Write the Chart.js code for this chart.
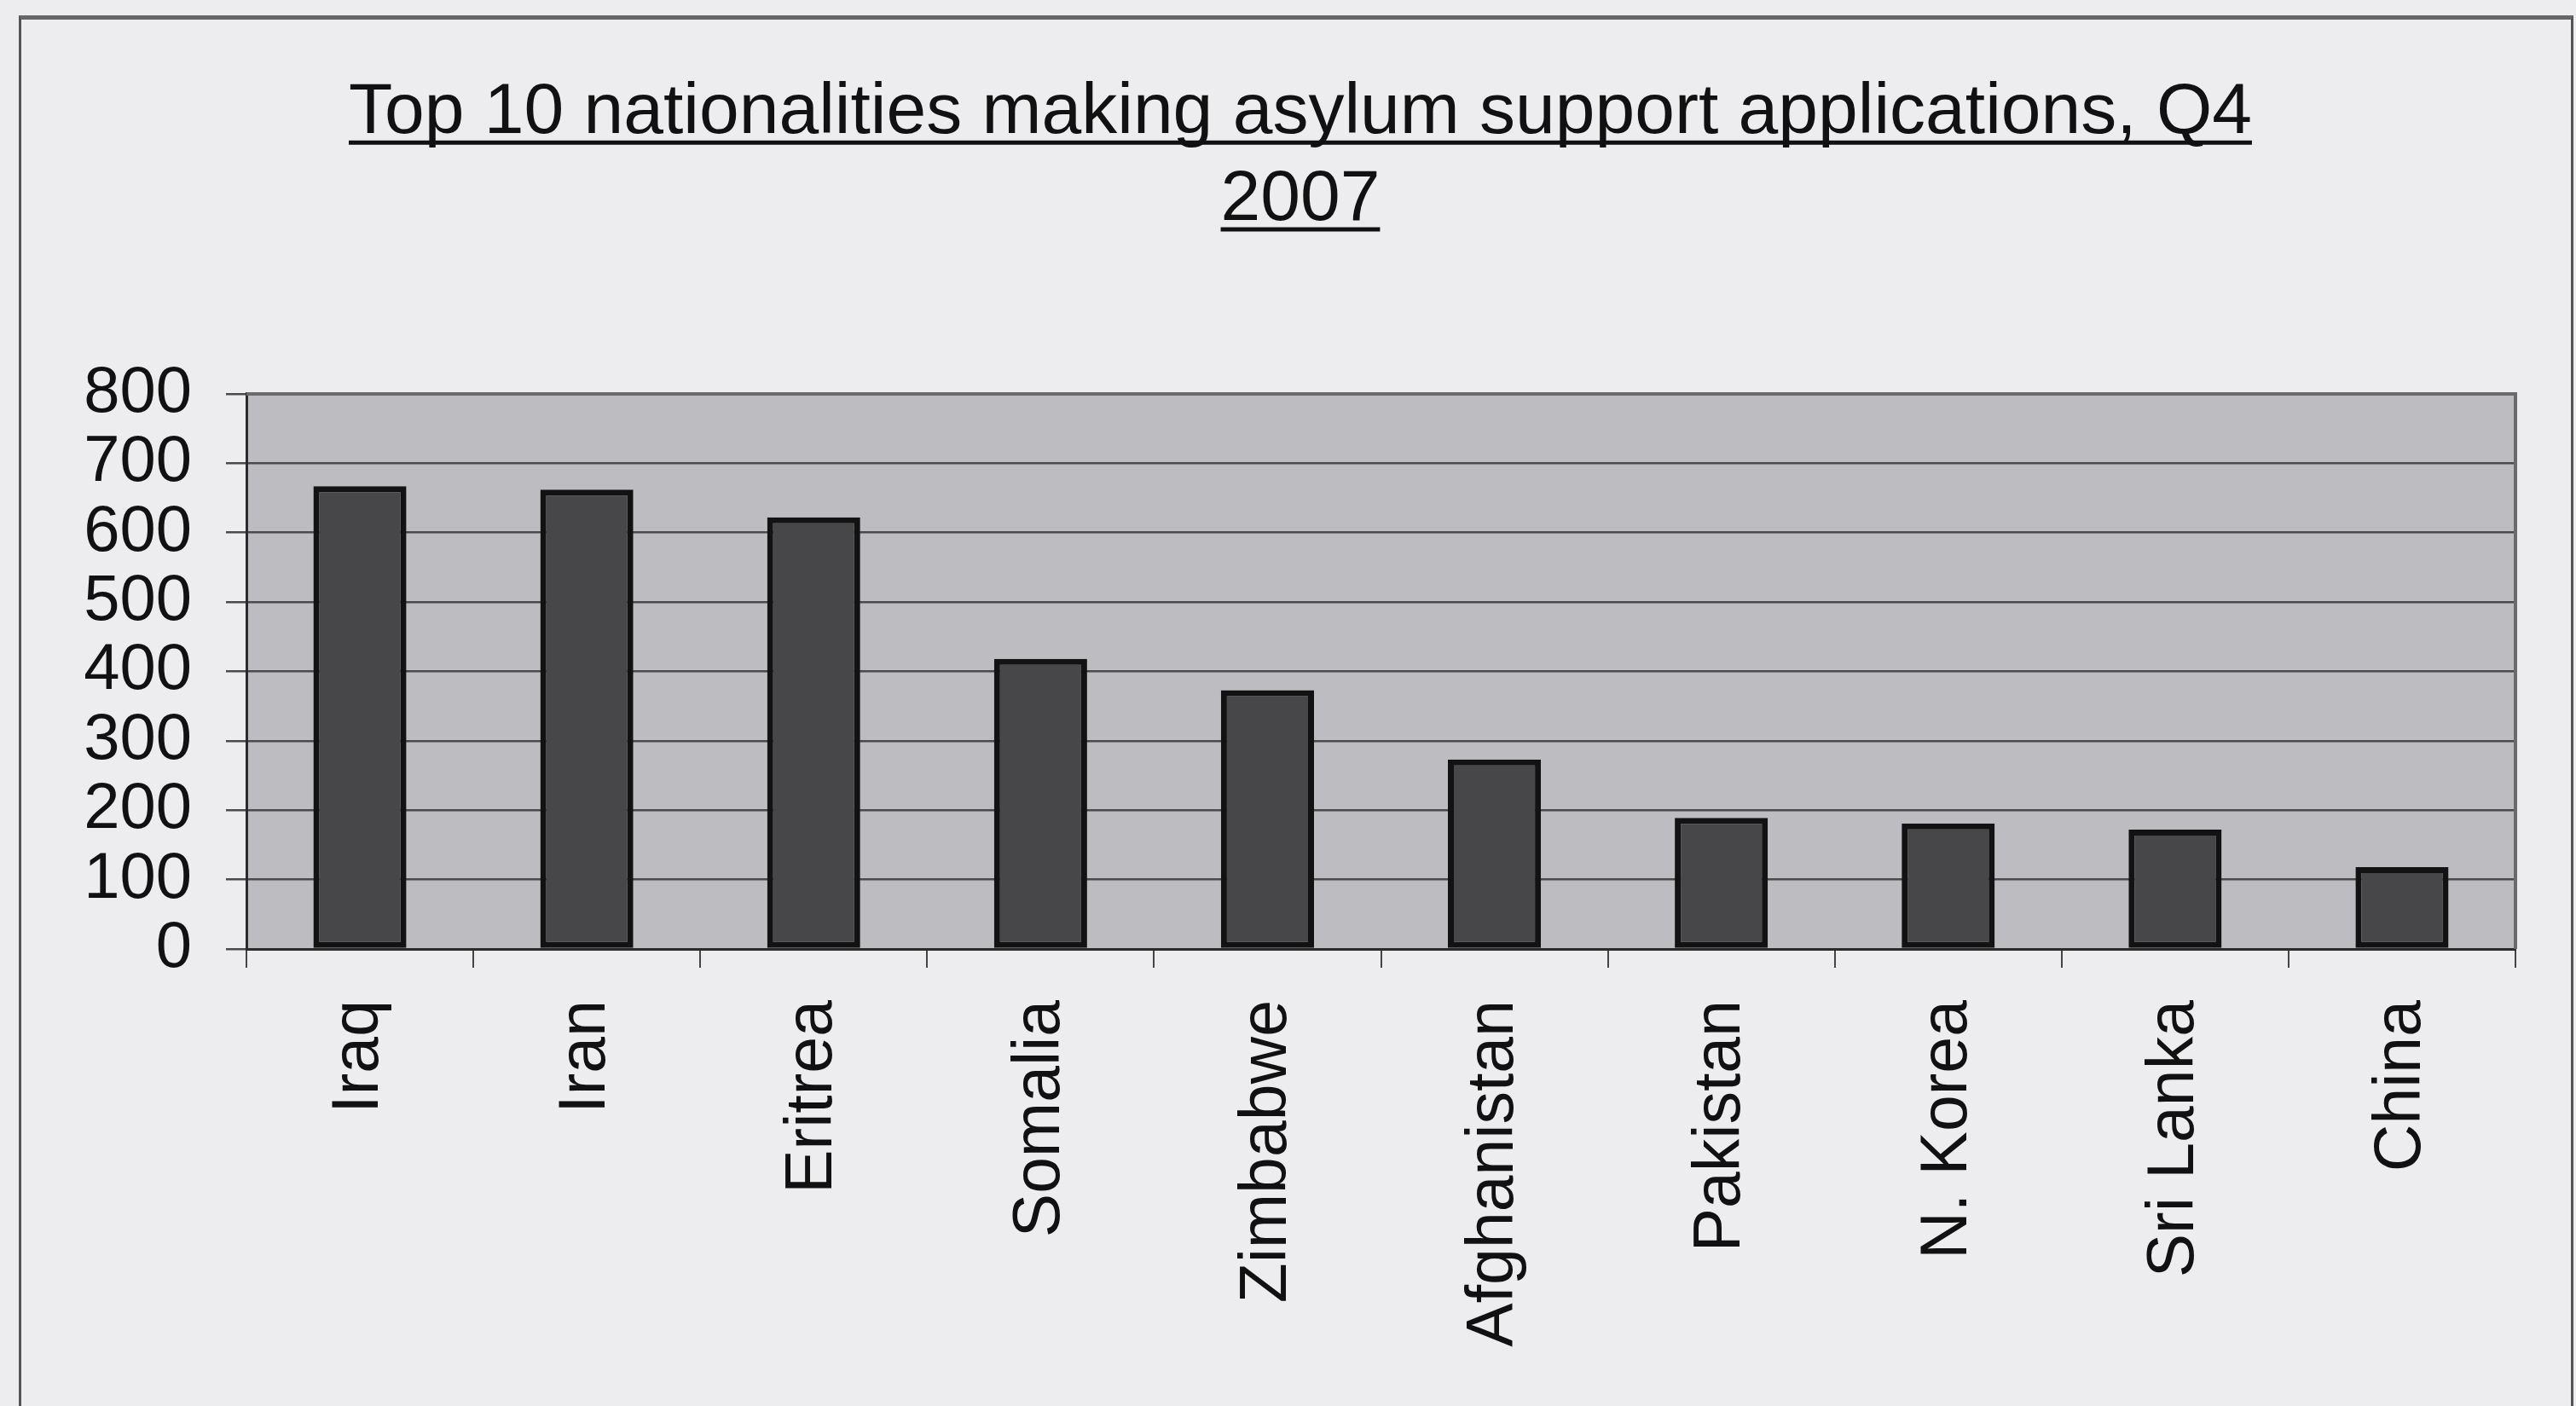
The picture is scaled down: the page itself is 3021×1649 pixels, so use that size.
<!DOCTYPE html>
<html lang="en">
<head>
  <meta charset="UTF-8" />
  <title>Top 10 nationalities making asylum support applications, Q4 2007</title>
  <script src="https://cdn.jsdelivr.net/npm/chart.js"></script>
  <style>
    html, body { margin: 0; padding: 0; background: #ededf0; overflow: hidden; }
    #frame { position: absolute; left: 22px; top: 18px; width: 2990px; height: 2000px;
             border-left: 3px solid #555; border-right: 3px solid #555; border-top: 5px solid #666; }
    #chart { position: absolute; left: 0; top: 0; }
  </style>
</head>
<body>
  <div id="frame"></div>
  <canvas id="chart" width="3021" height="1649"></canvas>

  <script>
    const titleLines = ['Top 10 nationalities making asylum support applications, Q4', '2007'];
    const countries = ['Iraq', 'Iran', 'Eritrea', 'Somalia', 'Zimbabwe', 'Afghanistan', 'Pakistan', 'N. Korea', 'Sri Lanka', 'China'];
    const applications = [667, 662, 622, 418, 373, 273, 189, 181, 172, 118];
    const yMax = 800, yStep = 100;

    Chart.defaults.font.family = '"Liberation Sans", Arial, sans-serif';
    Chart.defaults.color = '#111';

    // grey plot area + dark top/right edge, like the old Excel chart
    const plotBox = {
      id: 'plotBox',
      beforeDraw(chart) {
        const { ctx, chartArea: a } = chart;
        ctx.save();
        ctx.fillStyle = '#bdbdc1';
        ctx.fillRect(a.left, a.top, a.right - a.left, a.bottom - a.top);
        ctx.restore();
      },
      beforeDatasetsDraw(chart) {
        const { ctx, chartArea: a } = chart;
        ctx.save();
        ctx.strokeStyle = '#6a6a6a';
        ctx.lineWidth = 4;
        ctx.beginPath();
        ctx.moveTo(a.left, a.top);
        ctx.lineTo(a.right, a.top);
        ctx.lineTo(a.right, a.bottom);
        ctx.stroke();
        ctx.restore();
      }
    };

    // the title is underlined in the original
    const titleUnderline = {
      id: 'titleUnderline',
      afterDraw(chart) {
        const tb = chart.titleBlock;
        const opts = chart.options.plugins.title;
        const font = Chart.helpers.toFont(opts.font);
        const cx = (tb.left + tb.right) / 2;
        const ctx = chart.ctx;
        ctx.save();
        ctx.font = font.string;
        ctx.textBaseline = 'middle';
        const toBase = ctx.measureText('T').actualBoundingBoxDescent;
        ctx.strokeStyle = '#111';
        ctx.lineWidth = 5;
        titleLines.forEach((line, i) => {
          const yMid = tb.top + opts.padding.top + font.lineHeight * (i + 0.5);
          const w = ctx.measureText(line).width;
          const y = yMid + toBase + 11;
          ctx.beginPath();
          ctx.moveTo(cx - w / 2, y);
          ctx.lineTo(cx + w / 2, y);
          ctx.stroke();
        });
        ctx.restore();
      }
    };

    new Chart(document.getElementById('chart'), {
      type: 'bar',
      data: {
        labels: countries,
        datasets: [{
          label: 'Applications',
          data: applications,
          backgroundColor: '#47474a',
          borderColor: '#121212',
          borderWidth: 7,
          borderSkipped: false,
          barPercentage: 0.41,
          categoryPercentage: 1.0
        }]
      },
      options: {
        responsive: false,
        devicePixelRatio: 1,
        animation: false,
        layout: { padding: { left: 100, right: 71, top: 0, bottom: 0 } },
        plugins: {
          legend: { display: false },
          tooltip: { enabled: false },
          title: {
            display: true,
            text: titleLines,
            color: '#111',
            font: { size: 84, weight: 'normal', lineHeight: 1.214 },
            padding: { top: 82, bottom: 176 }
          }
        },
        scales: {
          x: {
            offset: true,
            grid: { offset: true, drawOnChartArea: false, drawTicks: true, tickLength: 22, color: '#444', lineWidth: 2 },
            border: { display: true, color: '#2a2a2a', width: 3 },
            ticks: { autoSkip: false, minRotation: 90, maxRotation: 90, padding: 38, font: { size: 77 }, color: '#111' },
            afterFit(s) { s.height = 536; }
          },
          y: {
            min: 0,
            max: yMax,
            ticks: { stepSize: yStep, autoSkip: false, padding: 40, font: { size: 76 }, color: '#111' },
            grid: { color: '#4a4a4a', lineWidth: 2.5, tickLength: 24 },
            border: { display: true, color: '#2a2a2a', width: 3 },
            afterFit(s) { s.width = 189; }
          }
        }
      },
      plugins: [plotBox, titleUnderline]
    });
  </script>
</body>
</html>
